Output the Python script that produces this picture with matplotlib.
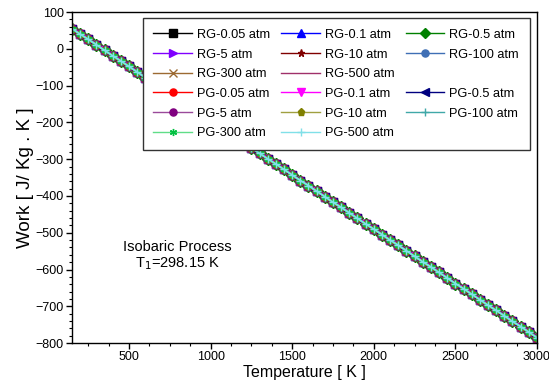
import matplotlib
matplotlib.use("Agg")
from matplotlib import pyplot as plt
from matplotlib.lines import Line2D
from matplotlib.ticker import MultipleLocator

plt.rcParams['font.family'] = ['Liberation Sans', 'DejaVu Sans']

# temperature [K] and work [J/kg.K] (all series overlap)
temperature = [150, 200, 250, 300, 350, 400, 450, 500, 550, 600, 650, 700, 750, 800,
               850, 900, 950, 1000, 1050, 1100, 1150, 1200, 1250, 1300, 1350, 1400,
               1450, 1500, 1550, 1600, 1650, 1700, 1750, 1800, 1850, 1900, 1950, 2000,
               2050, 2100, 2150, 2200, 2250, 2300, 2350, 2400, 2450, 2500, 2550, 2600,
               2650, 2700, 2750, 2800, 2850, 2900, 2950, 3000]
work = [55, 40, 26, 11, -4, -19, -33, -48, -63, -78, -92, -107, -122, -137,
        -151, -166, -181, -196, -210, -225, -240, -254, -269, -284, -299, -313,
        -328, -343, -358, -372, -387, -402, -417, -431, -446, -461, -476, -490,
        -505, -520, -534, -549, -564, -579, -593, -608, -623, -638, -652, -667,
        -682, -697, -711, -726, -741, -755, -770, -785]

labels = ['RG-0.05 atm', 'RG-0.1 atm', 'RG-0.5 atm', 'RG-5 atm', 'RG-10 atm',
          'RG-100 atm', 'RG-300 atm', 'RG-500 atm',
          'PG-0.05 atm', 'PG-0.1 atm', 'PG-0.5 atm', 'PG-5 atm', 'PG-10 atm',
          'PG-100 atm', 'PG-300 atm', 'PG-500 atm']
line_colors = ['#000000', '#0000ff', '#008000', '#8000ff', '#800000', '#3f6fb5',
               '#9c6a32', '#a0306a', '#ff0000', '#ff00ff', '#000080', '#9a4a9a',
               '#a0a040', '#40a8a8', '#60dd88', '#80e0e8']
marker_colors = ['#000000', '#0000ff', '#008000', '#8000ff', '#800000', '#3f6fb5',
                 '#9c6a32', '#a0306a', '#ff0000', '#ff00ff', '#000080', '#800080',
                 '#808000', '#40a8a8', '#00c040', '#80e0e8']
markers = ['s', '^', 'D', '>', '*', 'o', 'x', 'None',
           'o', 'v', '<', 'o', 'p', '+', (6, 2, 0), '+']

fig = plt.figure(figsize=(5.49, 3.89), dpi=100)
ax = fig.add_axes([0.131, 0.118, 0.847, 0.851])

handles = {}
for lab, lc, mc, mk in zip(labels, line_colors, marker_colors, markers):
    h, = ax.plot(temperature, work, color=lc, linewidth=1.3, marker=mk,
                 markersize=6, markerfacecolor=mc, markeredgecolor=mc,
                 markeredgewidth=1)
    handles[lab] = h

ax.set_xlim(150, 3000)
ax.set_ylim(-800, 100)
ax.xaxis.set_major_locator(MultipleLocator(500))
ax.xaxis.set_minor_locator(MultipleLocator(125))
ax.yaxis.set_major_locator(MultipleLocator(100))
ax.yaxis.set_minor_locator(MultipleLocator(20))
ax.tick_params(axis='both', which='major', direction='out', length=4, width=1,
               labelsize=9, pad=2)
ax.tick_params(axis='both', which='minor', direction='out', length=2.5, width=0.8)
for sp in ax.spines.values():
    sp.set_linewidth(1)

ax.set_xlabel('Temperature [ K ]', fontsize=11.5, labelpad=1)
ax.set_ylabel('Work [ J/ Kg . K ]', fontsize=13.5, labelpad=1)

ax.text(795, -540, 'Isobaric Process', fontsize=10.5, ha='center', va='center')
ax.text(795, -585, r'T$_1$=298.15 K', fontsize=10.5, ha='center', va='center')

# legend is filled row by row in the reference; build column-major order with blanks
blank = Line2D([], [], linestyle='None', marker='None')
col1 = ['RG-0.05 atm', 'RG-5 atm', 'RG-300 atm', 'PG-0.05 atm', 'PG-5 atm', 'PG-300 atm']
col2 = ['RG-0.1 atm', 'RG-10 atm', 'RG-500 atm', 'PG-0.1 atm', 'PG-10 atm', 'PG-500 atm']
col3 = ['RG-0.5 atm', 'RG-100 atm', None, 'PG-0.5 atm', 'PG-100 atm', None]
leg_handles, leg_labels = [], []
for lab in col1 + col2 + col3:
    if lab is None:
        leg_handles.append(blank)
        leg_labels.append('')
    else:
        leg_handles.append(handles[lab])
        leg_labels.append(lab)

leg = ax.legend(leg_handles, leg_labels, ncol=3, loc='upper right',
                bbox_to_anchor=(0.985, 0.982), borderaxespad=0, fontsize=9.2,
                handlelength=3.0, handletextpad=0.4, columnspacing=0.9,
                labelspacing=0.6, fancybox=False, framealpha=1,
                edgecolor='#333333', borderpad=0.85, markerscale=0.85)
leg.get_frame().set_linewidth(1)
for ln in leg.get_lines():
    ln.set_linewidth(1)

fig.savefig('out.png', dpi=100)
